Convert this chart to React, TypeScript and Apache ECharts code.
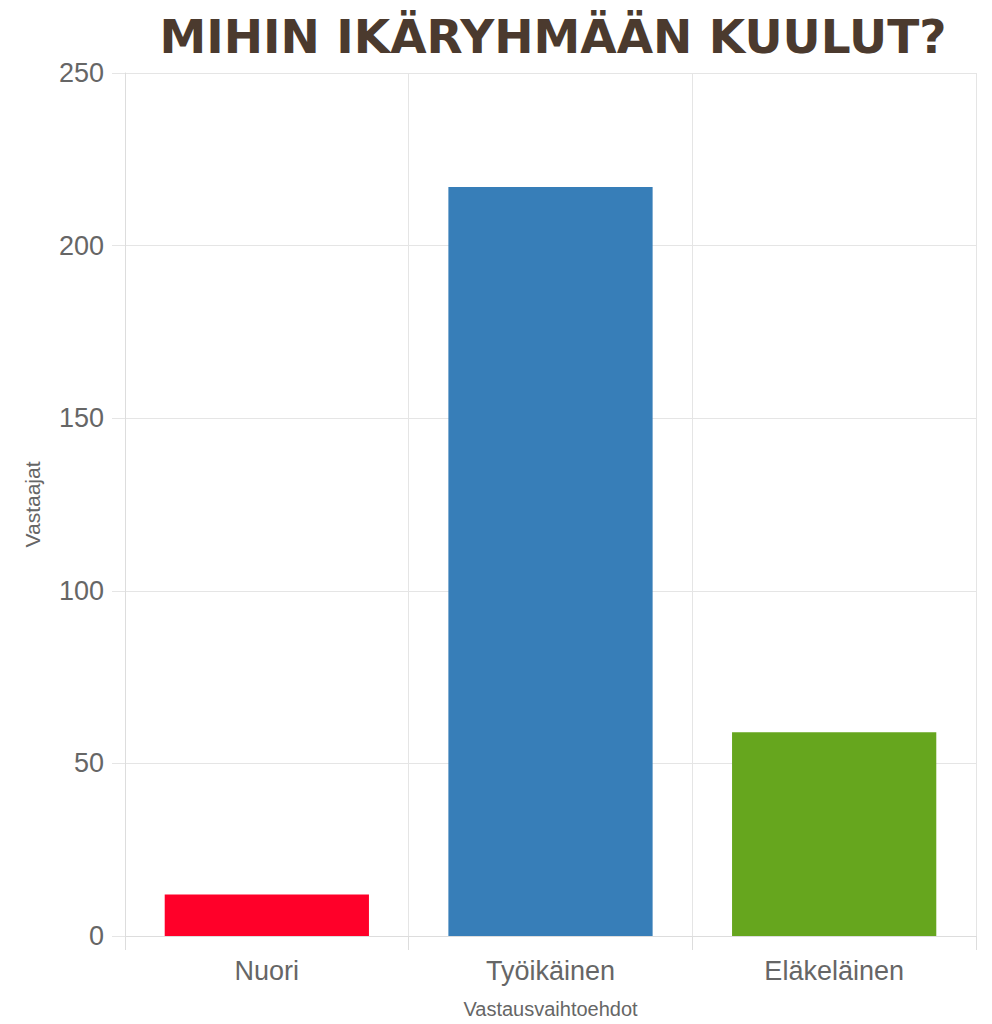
import React, { useEffect, useRef } from "react";
import * as echarts from "echarts";

const titleText = "MIHIN IKÄRYHMÄÄN KUULUT?";
const categories = ["Nuori", "Työikäinen", "Eläkeläinen"];
const values = [12, 217, 59];
const barColors = ["#FF0029", "#377EB8", "#66A61E"];
const xAxisName = "Vastausvaihtoehdot";
const yAxisName = "Vastaajat";

export default function App() {
  const ref = useRef<HTMLDivElement>(null);
  useEffect(() => {
    if (!ref.current) return;
    const chart = echarts.init(ref.current, null, { renderer: "svg" });
    const font = "'Liberation Sans', Arial, Helvetica, sans-serif";
    chart.setOption({
      animation: false,
      backgroundColor: "#ffffff",
      title: {
        text: titleText,
        left: 548,
        textAlign: "center",
        top: 8,
        textStyle: {
          fontFamily: "'DejaVu Sans', sans-serif",
          fontWeight: "bold",
          fontSize: 47,
          color: "#4B3A2E",
        },
      },
      grid: {
        left: 125,
        right: 16,
        top: 73,
        bottom: 88,
        containLabel: false,
        outerBoundsMode: "none",
      },
      xAxis: {
        type: "category",
        data: categories,
        name: xAxisName,
        nameLocation: "middle",
        nameGap: 63,
        nameTextStyle: { fontFamily: font, fontSize: 20, color: "#666666" },
        axisLine: { show: true, lineStyle: { color: "#dddddd", width: 1 } },
        axisTick: { show: true, length: 14, lineStyle: { color: "#dddddd" } },
        splitLine: { show: true, lineStyle: { color: "#e5e5e5", width: 1 } },
        axisLabel: { fontFamily: font, fontSize: 27, color: "#666666", margin: 21 },
      },
      yAxis: {
        type: "value",
        min: 0,
        max: 250,
        interval: 50,
        name: yAxisName,
        nameLocation: "middle",
        nameGap: 82,
        nameRotate: 90,
        nameTextStyle: { fontFamily: font, fontSize: 21, color: "#666666" },
        axisLine: { show: true, lineStyle: { color: "#dddddd", width: 1 } },
        axisTick: { show: true, length: 13, lineStyle: { color: "#e5e5e5" } },
        splitLine: { show: true, lineStyle: { color: "#e5e5e5", width: 1 } },
        axisLabel: { fontFamily: font, fontSize: 27, color: "#666666", margin: 21 },
      },
      series: [
        {
          type: "bar",
          barWidth: "72%",
          data: values.map((v, i) => ({
            value: v,
            itemStyle: { color: barColors[i] },
          })),
        },
      ],
    });
    return () => chart.dispose();
  }, []);
  return (
    <div
      ref={ref}
      style={{ position: "absolute", left: 0, top: 0, width: 992, height: 1024 }}
    />
  );
}
